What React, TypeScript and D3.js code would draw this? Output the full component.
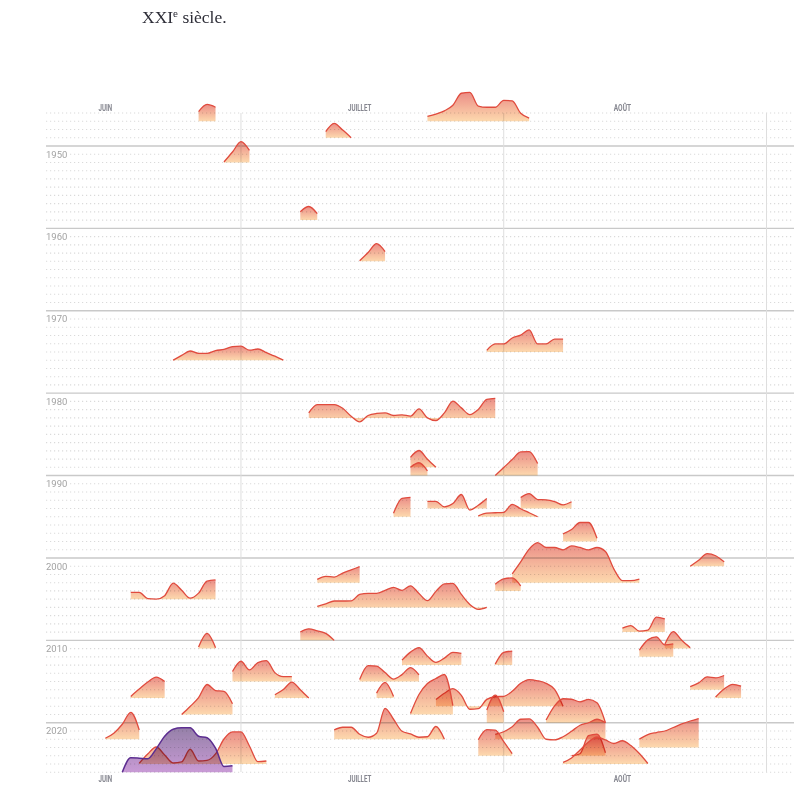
import React, { useEffect, useRef } from "react";
import * as d3 from "d3";

// année de référence pour placer les jours sur l'axe (non bissextile)
const REF_YEAR = 2001;

const firstYear = 1946;
const lastYear = 2026;
const decadeTicks = [1950, 1960, 1970, 1980, 1990, 2000, 2010, 2020];
const monthLabels = ["JUIN", "JUILLET", "AOÛT"];
const monthLabelDates = ["06-15", "07-15", "08-15"];
const monthLabelWidths = [13.7, 23.3, 17.3];
const monthStartDates = ["07-01", "08-01", "09-01"];

// vagues de chaleur : année, premier jour, écart quotidien (°C)
const waveYears = [
  1947, 1947, 1949, 1952, 1959, 1964, 1975, 1976, 1983, 1989, 1990, 1990, 1994, 1994, 1995, 1995, 1998,
  2001, 2003, 2003, 2004, 2005, 2006, 2009, 2010, 2011, 2011, 2012, 2013, 2013, 2015, 2015, 2016, 2017,
  2017, 2017, 2017, 2018, 2019, 2019, 2020, 2020, 2022, 2022, 2022, 2023, 2024, 2024, 2025, 2025,
];
const waveStarts = [
  "06-26", "07-23", "07-11", "06-29", "07-08", "07-15", "07-30", "06-23", "07-09", "07-21", "07-21", "07-31",
  "07-23", "08-03", "07-19", "07-29", "08-08", "08-23", "07-10", "08-02", "07-31", "06-18", "07-10", "08-15",
  "07-08", "06-26", "08-20", "08-17", "07-20", "07-31", "06-30", "07-15", "08-23", "06-18", "07-05", "07-17",
  "08-26", "07-24", "06-24", "07-21", "07-30", "08-06", "06-15", "07-12", "07-31", "08-17", "07-29", "08-09",
  "06-19", "08-08",
];
const waveValues = [
  [1.2, 2.1, 1.75],
  [0.6, 0.9, 1.3, 2.0, 3.5, 3.6, 1.9, 1.75, 1.75, 2.6, 2.55, 1.0, 0.4],
  [0.75, 1.8, 0.95, 0],
  [0.06, 1.3, 2.6, 1.5],
  [1.05, 1.7, 0.8],
  [0.06, 1.1, 2.2, 1.2],
  [0.2, 1.0, 1.0, 1.75, 2.1, 2.75, 1.0, 1.0, 1.6, 1.6],
  [0, 0.6, 1.15, 0.85, 0.85, 1.2, 1.35, 1.7, 1.75, 1.25, 1.4, 0.95, 0.5, 0],
  [0.62, 1.66, 1.66, 1.66, 1.2, 0.2, -0.5, 0.3, 0.55, 0.62, 0.3, 0.38, 0.22, 1.12, 0, -0.33, 0.62, 2.1, 1.25, 0.4, 1.05, 2.3, 2.45],
  [1.25, 2.1, 1.0, 0],
  [1.05, 1.6, 0.6],
  [0, 1.0, 2.0, 2.95, 3.0, 1.5],
  [0.9, 0.9, 0.2, 0.62, 1.75, -0.2, 0.4, 1.25],
  [1.37, 1.87, 1.12, 1.09, 0.87, 0.46, 0.84],
  [0.44, 2.3, 2.42],
  [0.12, 0.46, 0.5, 0.56, 1.56, 1.0, 0.5, 0],
  [0.96, 1.5, 2.37, 2.37, 0.4],
  [0, 0.75, 1.56, 1.31, 0.54],
  [0.42, 0.8, 0.7, 1.2, 1.6, 2.0],
  [1.1, 2.6, 4.2, 5.0, 4.4, 4.4, 4.1, 4.6, 4.4, 4.1, 4.4, 3.9, 1.7, 0.25, 0.25, 0.45],
  [0.84, 1.5, 1.62, 0.62],
  [0.84, 0.84, 0.06, 0, 0.44, 2.0, 1.12, 0.12, 0.75, 2.25, 2.4],
  [0.12, 0.44, 0.8, 0.8, 0.81, 1.62, 1.75, 1.75, 2.12, 2.5, 2.12, 2.7, 1.75, 0.84, 2.0, 2.94, 3.0, 1.62, 0.37, -0.25, 0],
  [0.5, 0.82, 0.12, 0.25, 1.87, 1.66],
  [1.04, 1.44, 1.19, 0.87, 0],
  [0.2, 1.9, 0.12],
  [0.5, 2.12, 1.04, 0.12],
  [0.84, 2.12, 2.5, 1.5, 1.62],
  [0.62, 1.62, 2.19, 1.12, 0.34, 0.87, 1.59, 1.46],
  [0.12, 1.6, 1.75],
  [1.25, 2.54, 1.46, 2.37, 2.62, 1.12, 0.62, 0.62],
  [0.25, 2.0, 1.94, 1.12, 0.31, 0.87, 1.75, 0.84],
  [0.41, 0.87, 1.62, 1.5, 1.79],
  [0.2, 1.12, 2.0, 2.62, 2.07],
  [0.41, 1.06, 2.0, 1.04, 0],
  [0.62, 1.95, 0.2],
  [0.12, 1.12, 1.71, 1.5],
  [0.84, 1.62, 2.2, 1.37, -0.37, -0.29, 0.87, 1.19, 1.25, 1.87, 2.87, 3.34, 3.19, 2.87, 2.12, 0],
  [0, 1.0, 2.12, 3.75, 3.0, 2.9, 1.34],
  [0.12, 2.5, 3.87, 4.5, 5.0, 1.12],
  [1.59, 3.46, 1.37],
  [0.34, 2.12, 3.0, 2.94, 2.62, 2.92, 2.5, 0],
  [0.12, 0.75, 1.87, 3.37, 1.16],
  [1.16, 1.5, 1.5, 0.62, 0.25, 0.75, 3.87, 2.5, 1.0, 0.66, 0.25, 0.31, 1.59, 0],
  [0.62, 0.94, 1.56, 2.5, 2.54, 1.5, 0, -0.09, 0.31, 1.0, 1.75, 2.06, 2.5, 2.07],
  [1.04, 1.62, 1.87, 2.06, 2.5, 2.94, 3.31, 3.62],
  [2.0, 3.25, 3.19, 1.75, 0.25],
  [0, 0.25, 2.5, 2.7, 0.37],
  [0.09, 1.25, 2.12, 1.12, 0.12, 0.25, 1.84, 0.37, 0.44, 1.25, 3.12, 4.0, 4.0, 2.25, 0.29, 0.37],
  [0.2, 0.75, 1.75, 2.75, 3.37, 3.0, 2.56, 2.9, 2.3, 1.3, 0.06],
];

// la vague mise en avant (violet), sur la dernière ligne
const highlightRow = 2026;
const highlightStart = "06-17";
const highlightValues = [0, 1.8, 1.75, 1.67, 2.92, 4.5, 5.37, 5.55, 5.55, 4.5, 4.3, 3.0, 0.7, 0.8];

type Pt = { date: Date; v: number };

const toDate = (md: string) => {
  const [m, d] = md.split("-").map(Number);
  return new Date(Date.UTC(REF_YEAR, m - 1, d));
};

export default function App() {
  const ref = useRef<SVGSVGElement>(null);

  useEffect(() => {
    const svg = d3.select(ref.current);
    svg.selectAll("*").remove();

    const x = d3.scaleUtc().domain([toDate("06-08"), toDate("09-01")]).range([46, 766.5]);
    const y = d3.scaleLinear().domain([firstYear, lastYear]).range([113, 772.2]);
    const h = d3.scaleLinear().domain([0, 5]).range([0, 40]);
    const right = 794;

    const defs = svg.append("defs");
    const g1 = defs.append("linearGradient").attr("id", "heat").attr("x1", 0).attr("y1", 0).attr("x2", 0).attr("y2", 1);
    g1.append("stop").attr("offset", "0%").attr("stop-color", "#eb8d86");
    g1.append("stop").attr("offset", "100%").attr("stop-color", "#fdd9ae");
    const g2 = defs.append("linearGradient").attr("id", "violet").attr("x1", 0).attr("y1", 0).attr("x2", 0).attr("y2", 1);
    g2.append("stop").attr("offset", "0%").attr("stop-color", "#9580a8");
    g2.append("stop").attr("offset", "100%").attr("stop-color", "#c99bd6");

    // titre (fin du paragraphe au-dessus)
    const title = svg.append("text").attr("x", 142).attr("y", 23)
      .style("font-family", "'Liberation Serif', 'DejaVu Serif', serif").style("font-size", "17.5px").attr("fill", "#2e2e38");
    title.append("tspan").text("XXI");
    title.append("tspan").attr("dy", -6).style("font-size", "11px").text("e");
    title.append("tspan").attr("dy", 6).text(" siècle.");

    // lignes d'années
    const years = d3.range(firstYear, lastYear + 1);
    const grid = svg.append("g");
    years.forEach((yr) => {
      if (decadeTicks.includes(yr)) {
        grid.append("line").attr("x1", 46).attr("x2", right).attr("y1", y(yr)).attr("y2", y(yr))
          .attr("stroke", "#c9c9c9").attr("stroke-width", 1.4);
      } else {
        const labelled = decadeTicks.includes(yr - 1);
        grid.append("line").attr("x1", labelled ? 70 : 46).attr("x2", right).attr("y1", y(yr)).attr("y2", y(yr))
          .attr("stroke", "#dadada").attr("stroke-width", 1.1).attr("stroke-dasharray", "1.2 2.8");
      }
    });
    // débuts de mois
    monthStartDates.forEach((md) => {
      grid.append("line").attr("x1", x(toDate(md))).attr("x2", x(toDate(md))).attr("y1", 113).attr("y2", 772)
        .attr("stroke", "#dedede").attr("stroke-width", 1);
    });
    // étiquettes des décennies
    decadeTicks.forEach((yr) => {
      grid.append("text").attr("x", 46).attr("y", y(yr + 1)).attr("dy", "0.35em").text(yr)
        .style("font-family", "Roboto, 'Open Sans', sans-serif").style("font-size", "9.5px").attr("fill", "#a3a3a3");
    });
    // mois en haut et en bas
    [110.5, 781.5].forEach((yy) => {
      monthLabels.forEach((m, i) => {
        grid.append("text").attr("x", x(toDate(monthLabelDates[i]))).attr("y", yy).attr("text-anchor", "middle")
          .attr("textLength", monthLabelWidths[i]).attr("lengthAdjust", "spacingAndGlyphs")
          .style("font-family", "'Liberation Sans Narrow', Roboto, sans-serif").style("font-size", "9.5px")
          .style("font-weight", "bold").attr("fill", "#85868f").text(m);
      });
    });

    const drawWave = (layer: d3.Selection<SVGGElement, unknown, null, undefined>, year: number, start: string,
      values: number[], fill: string, stroke: string, sw: number) => {
      const s = toDate(start);
      const pts: Pt[] = values.map((v, i) => ({ date: d3.utcDay.offset(s, i), v }));
      const base = y(year);
      const area = d3.area<Pt>().x((d) => x(d.date)).y0(base).y1((d) => base - h(d.v)).curve(d3.curveMonotoneX);
      const line = d3.line<Pt>().x((d) => x(d.date)).y((d) => base - h(d.v)).curve(d3.curveMonotoneX);
      layer.append("path").attr("d", area(pts)).attr("fill", fill).style("mix-blend-mode", "multiply");
      layer.append("path").attr("d", line(pts)).attr("fill", "none").attr("stroke", stroke)
        .attr("stroke-width", sw).attr("stroke-linejoin", "round");
    };

    const waves = svg.append("g");
    waveYears.forEach((yr, i) => {
      drawWave(waves, yr, waveStarts[i], waveValues[i], "url(#heat)", "#e04b3e", 1.3);
    });
    drawWave(waves, highlightRow, highlightStart, highlightValues, "url(#violet)", "#5c2d90", 1.5);
  }, []);

  return (
    <svg ref={ref} width={794} height={800} style={{ position: "absolute", left: 0, top: 0 }} />
  );
}
